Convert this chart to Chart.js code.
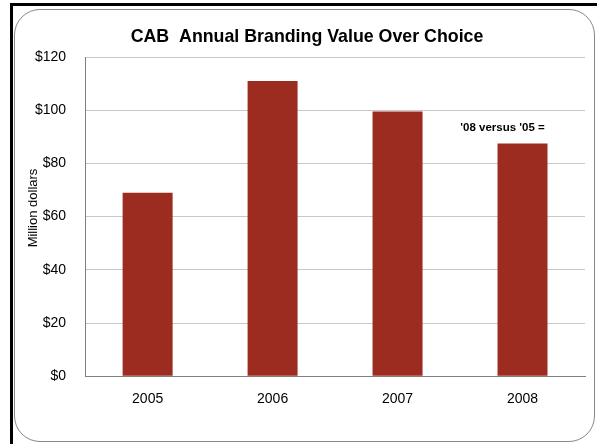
<!DOCTYPE html>
<html>
<head>
<meta charset="utf-8">
<script src="https://cdn.jsdelivr.net/npm/chart.js@4.4.0/dist/chart.umd.min.js"></script>
<style>
  html, body { margin: 0; padding: 0; background: #fff; }
  #frame { position: absolute; left: 10px; top: 3px; width: 587px; height: 441px;
           border-top: 3px solid #000; border-left: 3px solid #000; box-sizing: border-box; }
  #box { position: absolute; left: 14px; top: 9px; width: 581px; height: 433px;
         border: 1px solid #888; border-radius: 26px; box-sizing: border-box; }
  #wrap { position: absolute; left: 0; top: 0; width: 597px; height: 444px; }
</style>
</head>
<body>
<div id="frame"></div>
<div id="box"></div>
<div id="wrap"><canvas id="myChart"></canvas></div>
<script>
// categories and values (million dollars)
var years = ["2005", "2006", "2007", "2008"];
var brandingValue = [69, 111, 99.5, 87.5];
var yTicks = [0, 20, 40, 60, 80, 100, 120];

var chartTitle = "CAB  Annual Branding Value Over Choice";
var font = "'Liberation Sans', Arial, sans-serif";

// title, y axis title and the note above the 2008 bar
var textPlugin = {
  id: 'texts',
  afterDraw: function(chart) {
    var c = chart.ctx;
    c.save();
    c.fillStyle = "#000";
    c.textAlign = "center";
    c.textBaseline = "middle";

    c.font = "bold 17.8px " + font;
    c.fillText(chartTitle, 307, 37);

    var x = chart.scales.x.getPixelForValue(3) - 20;
    var y = chart.scales.y.getPixelForValue(93.5);
    c.font = "bold 11.5px " + font;
    c.fillText("'08 versus '05 =", x, y);

    c.translate(33, 208);
    c.rotate(-Math.PI / 2);
    c.font = "13px " + font;
    c.fillText("Million dollars", 0, 0);
    c.restore();
  }
};

var ctx = document.getElementById("myChart");
var myChart = new Chart(ctx, {
  type: 'bar',
  data: {
    labels: years,
    datasets: [
      {
        data: brandingValue,
        backgroundColor: "#9c2b20",
        barPercentage: 0.8,
        categoryPercentage: 0.5
      }
    ]
  },
  options: {
    responsive: true,
    maintainAspectRatio: false,
    animation: false,
    layout: { padding: { left: 16, right: 12, top: 57, bottom: 21 } },
    plugins: {
      legend: { display: false },
      tooltip: { enabled: false },
      title: { display: false }
    },
    scales: {
      x: {
        grid: { display: false, drawTicks: false },
        border: { color: "#808080", width: 1 },
        ticks: { color: "#000", font: { family: font, size: 14 }, padding: 15 }
      },
      y: {
        min: 0,
        max: 120,
        afterBuildTicks: function(axis) {
          axis.ticks = yTicks.map(function(v) { return { value: v }; });
        },
        grid: { color: "#c8c8c8", drawTicks: false },
        border: { color: "#808080", width: 1 },
        ticks: {
          color: "#000",
          font: { family: font, size: 14 },
          padding: 19,
          callback: function(v) { return "$" + v; }
        }
      }
    }
  },
  plugins: [textPlugin]
});
</script>
</body>
</html>
